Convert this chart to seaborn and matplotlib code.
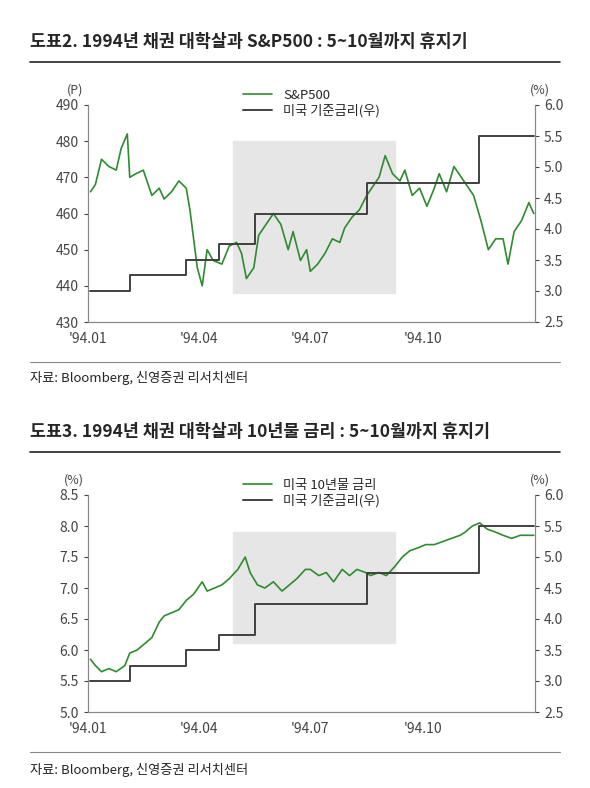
import numpy as np
import pandas as pd
import matplotlib
matplotlib.use("Agg")
import matplotlib.pyplot as plt
import matplotlib.dates as mdates
import seaborn as sns

sns.set_style("white")
plt.rcParams['font.family'] = ['Noto Sans CJK KR', 'DejaVu Sans']

# S&P500 (1994)
spx_dates = ["1994-01-03", "1994-01-07", "1994-01-12", "1994-01-18", "1994-01-24", "1994-01-28", "1994-02-02",
             "1994-02-04", "1994-02-09", "1994-02-15", "1994-02-22", "1994-02-28", "1994-03-04", "1994-03-10",
             "1994-03-16", "1994-03-22", "1994-03-25", "1994-03-31", "1994-04-04", "1994-04-08", "1994-04-13",
             "1994-04-20", "1994-04-26", "1994-05-02", "1994-05-06", "1994-05-10", "1994-05-16", "1994-05-20",
             "1994-05-26", "1994-06-01", "1994-06-07", "1994-06-13", "1994-06-17", "1994-06-23", "1994-06-28",
             "1994-07-01", "1994-07-07", "1994-07-13", "1994-07-19", "1994-07-25", "1994-07-29", "1994-08-04",
             "1994-08-10", "1994-08-16", "1994-08-22", "1994-08-26", "1994-08-31", "1994-09-06", "1994-09-12",
             "1994-09-16", "1994-09-22", "1994-09-28", "1994-10-04", "1994-10-10", "1994-10-14", "1994-10-20",
             "1994-10-26", "1994-11-01", "1994-11-07", "1994-11-11", "1994-11-17", "1994-11-23", "1994-11-29",
             "1994-12-05", "1994-12-09", "1994-12-14", "1994-12-20", "1994-12-26", "1994-12-30"]
spx_vals = [466, 468, 475, 473, 472, 478, 482, 470, 471, 472, 465, 467, 464, 466, 469, 467, 461, 445,
            440, 450, 447, 446, 451, 452, 449, 442, 445, 454, 457, 460, 457, 450, 455, 447, 450,
            444, 446, 449, 453, 452, 456, 459, 461, 465, 468, 470, 476, 471, 469, 472, 465, 467,
            462, 467, 471, 466, 473, 470, 467, 465, 458, 450, 453, 453, 446, 455, 458, 463, 460]

# US 10y yield (%)
ust_dates = ["1994-01-03", "1994-01-07", "1994-01-12", "1994-01-18", "1994-01-24", "1994-01-31", "1994-02-04",
             "1994-02-10", "1994-02-16", "1994-02-22", "1994-02-28", "1994-03-04", "1994-03-10", "1994-03-16",
             "1994-03-22", "1994-03-28", "1994-04-04", "1994-04-08", "1994-04-14", "1994-04-20", "1994-04-26",
             "1994-05-03", "1994-05-09", "1994-05-13", "1994-05-19", "1994-05-25", "1994-06-01", "1994-06-08",
             "1994-06-14", "1994-06-20", "1994-06-27", "1994-07-01", "1994-07-08", "1994-07-14", "1994-07-20",
             "1994-07-27", "1994-08-02", "1994-08-08", "1994-08-15", "1994-08-19", "1994-08-26", "1994-09-01",
             "1994-09-08", "1994-09-14", "1994-09-20", "1994-09-27", "1994-10-03", "1994-10-10", "1994-10-17",
             "1994-10-24", "1994-10-31", "1994-11-04", "1994-11-10", "1994-11-16", "1994-11-22", "1994-11-29",
             "1994-12-05", "1994-12-12", "1994-12-19", "1994-12-26", "1994-12-30"]
ust_vals = [5.85, 5.75, 5.65, 5.7, 5.65, 5.75, 5.95, 6.0, 6.1, 6.2, 6.45, 6.55, 6.6, 6.65, 6.8, 6.9,
            7.1, 6.95, 7.0, 7.05, 7.15, 7.3, 7.5, 7.25, 7.05, 7.0, 7.1, 6.95, 7.05, 7.15, 7.3,
            7.3, 7.2, 7.25, 7.1, 7.3, 7.2, 7.3, 7.25, 7.2, 7.25, 7.2, 7.35, 7.5, 7.6, 7.65, 7.7,
            7.7, 7.75, 7.8, 7.85, 7.9, 8.0, 8.05, 7.95, 7.9, 7.85, 7.8, 7.85, 7.85, 7.85]

# Fed funds target (step)
fed_dates = ["1994-01-03", "1994-02-04", "1994-03-22", "1994-04-18", "1994-05-17", "1994-08-16",
             "1994-11-15", "1994-12-30"]
fed_vals = [3.0, 3.25, 3.5, 3.75, 4.25, 4.75, 5.5, 5.5]

box_start, box_end = "1994-04-29", "1994-09-08"

spx = pd.DataFrame({"date": pd.to_datetime(spx_dates), "v": spx_vals})
ust = pd.DataFrame({"date": pd.to_datetime(ust_dates), "v": ust_vals})
fed = pd.DataFrame({"date": pd.to_datetime(fed_dates), "v": fed_vals})

GREEN = "#2e8b2e"
DARK = "#404040"
W, H = 590, 788
fig = plt.figure(figsize=(W / 100, H / 100), dpi=100)


def panel(rect, df, label, ylim, yticks, unit_left, box_y, fmt):
    ax = fig.add_axes(rect)
    x0 = mdates.date2num(pd.Timestamp(box_start))
    x1 = mdates.date2num(pd.Timestamp(box_end))
    ax.add_patch(plt.Rectangle((x0, box_y[0]), x1 - x0, box_y[1] - box_y[0], color="#e6e6e6", zorder=0))
    sns.lineplot(data=df, x="date", y="v", ax=ax, color=GREEN, lw=1.2, label=label)
    ax2 = ax.twinx()
    ax2.step(fed["date"], fed["v"], where="post", color=DARK, lw=1.4, label="미국 기준금리(우)")
    ax.set_ylim(*ylim)
    ax.set_yticks(yticks)
    ax.set_yticklabels([fmt.format(t) for t in yticks])
    r = np.arange(2.5, 6.01, 0.5)
    ax2.set_ylim(2.5, 6.0)
    ax2.set_yticks(r)
    ax2.set_yticklabels([f"{t:.1f}" for t in r])
    ax.set_xlim(pd.Timestamp("1994-01-01"), pd.Timestamp("1994-12-31"))
    ax.set_xticks(pd.to_datetime(["1994-01-01", "1994-04-01", "1994-07-01", "1994-10-01"]))
    ax.set_xticklabels(["'94.01", "'94.04", "'94.07", "'94.10"])
    ax.set_xlabel("")
    ax.set_ylabel("")
    for a in (ax, ax2):
        a.spines["top"].set_visible(False)
        for s in ("left", "right", "bottom"):
            a.spines[s].set_color("#888888")
        a.tick_params(labelsize=10, colors="#444444", direction="out", length=3)
    ax.tick_params(axis="x", length=4)
    ax.text(-0.01, 1.055, unit_left, transform=ax.transAxes, fontsize=9, color="#444444", ha="right")
    ax.text(1.01, 1.055, "(%)", transform=ax.transAxes, fontsize=9, color="#444444", ha="center")
    h1, l1 = ax.get_legend_handles_labels()
    h2, l2 = ax2.get_legend_handles_labels()
    ax.legend(h1 + h2, l1 + l2, loc="upper center", bbox_to_anchor=(0.5, 1.1), frameon=False,
              fontsize=9.5, handlelength=2.2, labelspacing=0.2, borderaxespad=0)
    return ax


def fy(px):
    return 1 - px / H


panel([88 / W, fy(322), 447 / W, 217 / H], spx, "S&P500", (430, 490), np.arange(430, 491, 10), "(P)",
      (438, 480), "{:.0f}")
panel([88 / W, fy(712), 447 / W, 217 / H], ust, "미국 10년물 금리", (5.0, 8.5), np.arange(5.0, 8.51, 0.5),
      "(%)", (6.12, 7.9), "{:.1f}")

fig.text(30 / W, fy(42), "도표2. 1994년 채권 대학살과 S&P500 : 5~10월까지 휴지기", fontsize=12.5,
         fontweight="bold", va="center")
fig.text(30 / W, fy(432), "도표3. 1994년 채권 대학살과 10년물 금리 : 5~10월까지 휴지기", fontsize=12.5,
         fontweight="bold", va="center")
for y in (62, 452):
    fig.add_artist(plt.Line2D([30 / W, 560 / W], [fy(y), fy(y)], color="#222222", lw=1.2))
for y in (362, 752):
    fig.add_artist(plt.Line2D([30 / W, 560 / W], [fy(y), fy(y)], color="#888888", lw=0.8))
fig.text(30 / W, fy(378), "자료: Bloomberg, 신영증권 리서치센터", fontsize=9.5, va="center")
fig.text(30 / W, fy(770), "자료: Bloomberg, 신영증권 리서치센터", fontsize=9.5, va="center")

fig.savefig("out.png", dpi=100, facecolor="white")
